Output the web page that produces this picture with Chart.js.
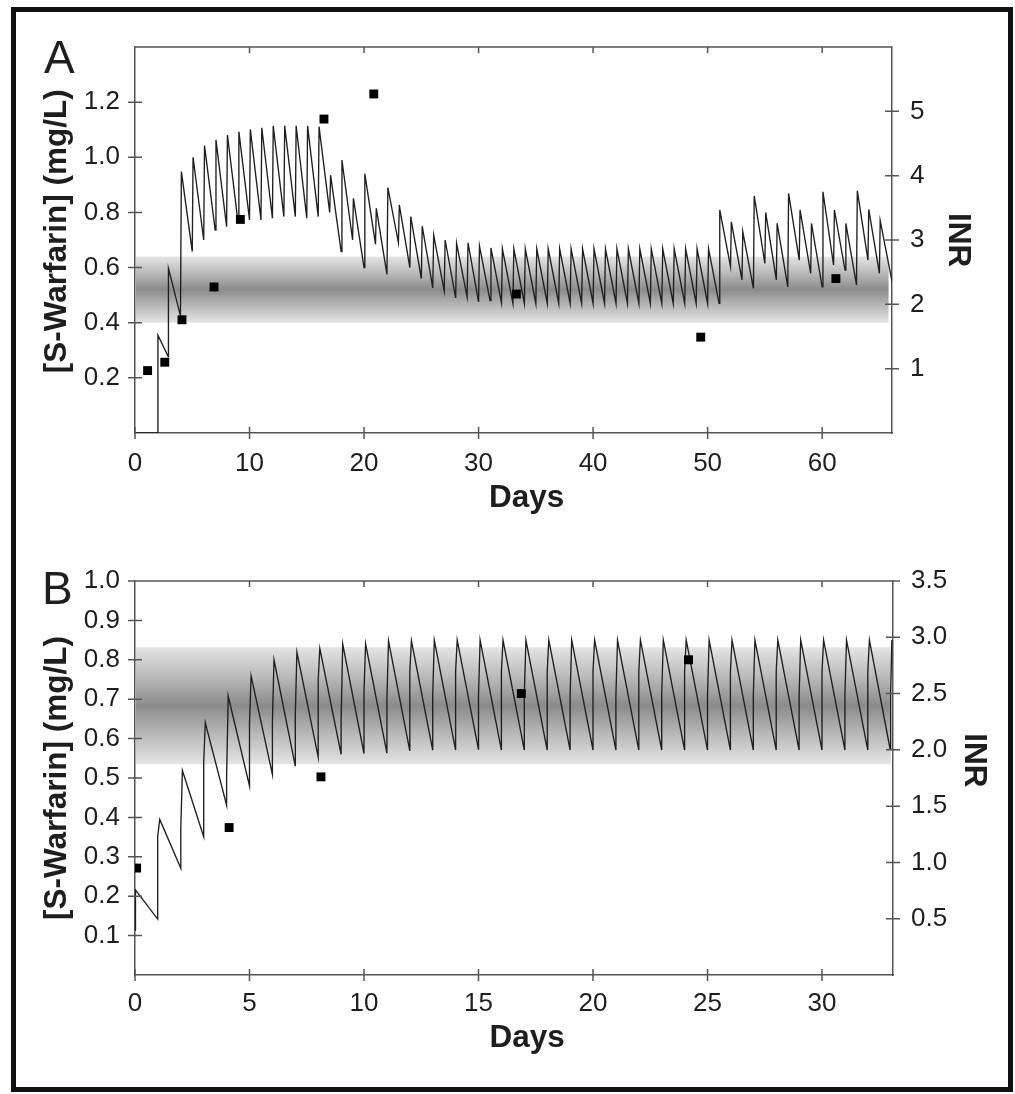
<!DOCTYPE html>
<html>
<head>
<meta charset="utf-8">
<script src="https://cdn.jsdelivr.net/npm/chart.js@4.4.1/dist/chart.umd.min.js"></script>
<style>
  html, body { margin: 0; padding: 0; background: #fff; }
  #page { position: relative; width: 1015px; height: 1094px; overflow: hidden; }
  #frame { position: absolute; left: 11px; top: 7px; width: 1002px; height: 1085px; border: 5px solid #111; box-sizing: border-box; }
  canvas { position: absolute; left: 0; }
  #chartA { top: 0; }
  #chartB { top: 540px; }
</style>
</head>
<body>
<div id="page">
  <div id="frame"></div>
  <canvas id="chartA" width="1015" height="540"></canvas>
  <canvas id="chartB" width="1015" height="554"></canvas>
</div>
<script>
// ---- Panel A: simulated [S-warfarin] (mg/L) and measured INR ----
const concA_days = [0, 2.0, 2.0, 2.9, 2.92, 3.97, 4.05,
  5.0, 5.07, 6.0, 6.07, 7.0, 7.07, 8.0, 8.07, 9.0, 9.07, 10.0, 10.07, 11.0, 11.07,
  12.0, 12.07, 13.0, 13.07, 14.0, 14.07, 15.0, 15.07, 16.0, 16.07,
  17.0, 17.08, 18.0, 18.07, 19.0, 19.07, 20.0, 20.07, 21.0, 21.07, 22.0, 22.08,
  23.0, 23.08, 24.0, 24.08, 25.0, 25.08, 26.0, 26.08, 27.0, 27.08, 28.0, 28.08,
  29.0, 29.08, 30.0, 30.08, 31.0, 31.08, 32.0, 32.08, 33.0, 33.08, 34.0, 34.08,
  35.0, 35.08, 36.0, 36.08, 37.0, 37.08, 38.0, 38.08, 39.0, 39.08, 40.0, 40.08,
  41.0, 41.08, 42.0, 42.08, 43.0, 43.08, 44.0, 44.08, 45.0, 45.08, 46.0, 46.08,
  47.0, 47.08, 48.0, 48.08, 49.0, 49.08, 50.0, 50.08, 51.0, 51.06,
  52.0, 52.07, 53.0, 53.07, 54.0, 54.07, 55.0, 55.07, 56.0, 56.07, 57.0, 57.07,
  58.0, 58.07, 59.0, 59.07, 60.0, 60.07, 61.0, 61.07, 62.0, 62.07, 63.0, 63.07,
  64.0, 64.07, 65.0, 65.07, 66.1];
const concA_mgL = [0, 0, 0.355, 0.277, 0.597, 0.425, 0.948,
  0.658, 1.000, 0.700, 1.042, 0.736, 1.063, 0.748, 1.081, 0.763, 1.093, 0.773, 1.101, 0.773, 1.107,
  0.779, 1.114, 0.785, 1.114, 0.785, 1.114, 0.779, 1.114, 0.785, 1.111,
  0.800, 0.935, 0.658, 0.990, 0.700, 0.851, 0.600, 0.940, 0.685, 0.815, 0.575, 0.890,
  0.690, 0.827, 0.600, 0.785, 0.560, 0.750, 0.526, 0.718, 0.515, 0.700, 0.490, 0.688,
  0.494, 0.690, 0.476, 0.678, 0.480, 0.671, 0.472, 0.668, 0.470, 0.668, 0.470, 0.668,
  0.470, 0.668, 0.470, 0.668, 0.470, 0.668, 0.470, 0.668, 0.470, 0.668, 0.470, 0.668,
  0.470, 0.668, 0.470, 0.668, 0.470, 0.668, 0.470, 0.668, 0.470, 0.668, 0.470, 0.668,
  0.470, 0.668, 0.470, 0.668, 0.470, 0.668, 0.470, 0.668, 0.470, 0.809,
  0.603, 0.766, 0.555, 0.730, 0.525, 0.860, 0.615, 0.800, 0.555, 0.761, 0.530, 0.869,
  0.627, 0.809, 0.579, 0.760, 0.530, 0.875, 0.609, 0.809, 0.591, 0.760, 0.537, 0.879,
  0.627, 0.811, 0.579, 0.770, 0.550];
const inrA_days   = [1.1, 2.6, 4.1, 6.9, 9.2, 16.5, 20.85, 33.3, 49.4, 61.2];
const inrA_values = [0.97, 1.10, 1.76, 2.27, 3.32, 4.88, 5.27, 2.16, 1.49, 2.40];
const bandA = [0.40, 0.64];     // shaded concentration range, mg/L
const bandA_end = 65.8;         // days

// ---- Panel B ----
const concB_days = [0, 0.02,
  0.99, 0.99, 1.08, 2.0, 2.0, 2.07, 3.0, 3.0, 3.07, 4.0, 4.0, 4.07, 5.0, 5.0, 5.07,
  6.0, 6.0, 6.07, 7.0, 7.0, 7.07, 8.0, 8.0, 8.07, 9.0, 9.0, 9.07, 10.0, 10.0, 10.07,
  11.0, 11.0, 11.07, 12.0, 12.0, 12.07, 13.0, 13.0, 13.07, 14.0, 14.0, 14.07,
  15.0, 15.0, 15.07, 16.0, 16.0, 16.07, 17.0, 17.0, 17.07, 18.0, 18.0, 18.07,
  19.0, 19.0, 19.07, 20.0, 20.0, 20.07, 21.0, 21.0, 21.07, 22.0, 22.0, 22.07,
  23.0, 23.0, 23.07, 24.0, 24.0, 24.07, 25.0, 25.0, 25.07, 26.0, 26.0, 26.07,
  27.0, 27.0, 27.07, 28.0, 28.0, 28.07, 29.0, 29.0, 29.07, 30.0, 30.0, 30.07,
  31.0, 31.0, 31.07, 32.0, 32.0, 32.07, 32.97, 33.0, 33.05];
const concB_mgL = [0.114, 0.216,
  0.142, 0.351, 0.395, 0.271, 0.372, 0.519, 0.351, 0.541, 0.640, 0.431, 0.503, 0.708, 0.480, 0.639, 0.759,
  0.509, 0.640, 0.800, 0.530, 0.660, 0.819, 0.553, 0.749, 0.829, 0.560, 0.647, 0.840, 0.562, 0.720, 0.840,
  0.563, 0.700, 0.848, 0.569, 0.770, 0.848, 0.571, 0.710, 0.850, 0.571, 0.770, 0.850,
  0.572, 0.710, 0.850, 0.571, 0.770, 0.850, 0.571, 0.710, 0.850, 0.571, 0.770, 0.850,
  0.571, 0.710, 0.850, 0.571, 0.770, 0.850, 0.571, 0.710, 0.850, 0.571, 0.770, 0.850,
  0.571, 0.710, 0.850, 0.571, 0.770, 0.850, 0.571, 0.710, 0.850, 0.571, 0.770, 0.850,
  0.571, 0.710, 0.850, 0.571, 0.770, 0.850, 0.571, 0.710, 0.850, 0.571, 0.770, 0.850,
  0.571, 0.710, 0.850, 0.571, 0.770, 0.850, 0.575, 0.720, 0.850];
const inrB_days   = [0.07, 4.11, 8.12, 16.87, 24.17];
const inrB_values = [0.95, 1.31, 1.76, 2.50, 2.80];
const bandB = [0.535, 0.832];
const bandB_end = 33.0;

const tickFont = { family: '"Liberation Sans", Arial, sans-serif', size: 26 };
const titleFont = { family: '"Liberation Sans", Arial, sans-serif', size: 31.5, weight: 'bold' };
const textColor = '#1e1e1e';
const axisColor = '#555';

const pts = (xs, ys) => xs.map((x, i) => ({ x: x, y: ys[i] }));

// gradient band + box top line + tick marks that cross the axes + panel letter
const panelDecor = {
  id: 'panelDecor',
  beforeDatasetsDraw(chart, args, o) {
    const { ctx, chartArea: a, scales } = chart;
    const top = scales.y.getPixelForValue(o.band[1]);
    const bot = scales.y.getPixelForValue(o.band[0]);
    const right = scales.x.getPixelForValue(o.bandEnd);
    const g = ctx.createLinearGradient(0, top, 0, bot);
    g.addColorStop(0, '#e4e4e4');
    g.addColorStop(0.25, '#bababa');
    g.addColorStop(0.5, '#8b8b8b');
    g.addColorStop(0.75, '#bababa');
    g.addColorStop(1, '#e4e4e4');
    ctx.save();
    ctx.fillStyle = g;
    ctx.fillRect(a.left + 1, top, right - a.left - 1, bot - top);
    ctx.restore();
  },
  afterDraw(chart, args, o) {
    const { ctx, chartArea: a, scales } = chart;
    ctx.save();
    ctx.strokeStyle = axisColor;
    ctx.lineWidth = 1.5;
    ctx.beginPath();
    ctx.moveTo(a.left, a.top);
    ctx.lineTo(a.right, a.top);
    scales.x.ticks.forEach(t => {
      if (t.label === '') return;
      const px = scales.x.getPixelForValue(t.value);
      ctx.moveTo(px, a.bottom - 6); ctx.lineTo(px, a.bottom + 6);
      if (t.value > 0) { ctx.moveTo(px, a.top); ctx.lineTo(px, a.top + 6); }
    });
    scales.y.ticks.forEach(t => {
      if (t.label === '') return;
      const py = scales.y.getPixelForValue(t.value);
      ctx.moveTo(a.left - 7, py); ctx.lineTo(a.left + 7, py);
    });
    scales.y1.ticks.forEach(t => {
      if (t.label === '') return;
      const py = scales.y1.getPixelForValue(t.value);
      ctx.moveTo(a.right - 7, py); ctx.lineTo(a.right + 7, py);
    });
    ctx.stroke();
    ctx.fillStyle = textColor;
    ctx.font = '46px "Liberation Sans", Arial, sans-serif';
    ctx.textBaseline = 'alphabetic';
    ctx.fillText(o.letter, o.letterX, o.letterY);
    ctx.restore();
  }
};

function makePanel(id, cfg) {
  return new Chart(document.getElementById(id), {
    type: 'scatter',
    data: {
      datasets: [
        {
          data: pts(cfg.inrDays, cfg.inrValues),
          yAxisID: 'y1',
          pointStyle: 'rect',
          pointRadius: 6.3,
          backgroundColor: '#000',
          borderWidth: 0,
          order: 0
        },
        {
          data: pts(cfg.concDays, cfg.concValues),
          yAxisID: 'y',
          showLine: true,
          borderColor: '#1f1f1f',
          borderWidth: 1.35,
          pointRadius: 0,
          tension: 0,
          order: 1
        }
      ]
    },
    options: {
      responsive: false,
      animation: false,
      events: [],
      layout: { padding: { top: cfg.padTop, left: 0, right: 0, bottom: 0 } },
      plugins: {
        legend: { display: false },
        tooltip: { enabled: false },
        panelDecor: { band: cfg.band, bandEnd: cfg.bandEnd, letter: cfg.letter, letterX: cfg.letterX, letterY: cfg.letterY }
      },
      scales: {
        x: {
          type: 'linear', min: 0, max: cfg.xMax,
          grid: { display: false, drawTicks: false },
          border: { color: axisColor, width: 1.5 },
          ticks: { stepSize: cfg.xStep, includeBounds: false, padding: cfg.xPad, font: tickFont, color: textColor, maxRotation: 0 },
          title: { display: true, text: '   Days', font: titleFont, color: textColor, padding: { top: 0, bottom: cfg.daysPad } },
          afterFit: s => { s.height = cfg.xHeight; }
        },
        y: {
          type: 'linear', position: 'left', min: 0, max: cfg.yMax,
          grid: { display: false, drawTicks: false },
          border: { color: axisColor, width: 1.5 },
          ticks: {
            stepSize: cfg.yStep, padding: 15, font: tickFont, color: textColor,
            callback: v => (v > 0.001 && v <= cfg.yLabelMax + 0.001) ? v.toFixed(1) : ''
          },
          title: { display: true, text: cfg.yTitle, font: titleFont, color: textColor, padding: { top: 38 } },
          afterFit: s => { s.width = 135; }
        },
        y1: {
          type: 'linear', position: 'right', min: 0, max: cfg.y1Max,
          grid: { display: false, drawTicks: false },
          border: { color: axisColor, width: 1.5 },
          ticks: {
            stepSize: cfg.y1Step, padding: 18, font: tickFont, color: textColor,
            callback: v => (v > 0.001 && v <= cfg.y1LabelMax + 0.001) ? (cfg.y1Step < 1 ? v.toFixed(1) : String(v)) : ''
          },
          title: { display: true, text: cfg.inrTitle, font: titleFont, color: textColor, padding: { top: cfg.inrPad } },
          afterFit: s => { s.width = cfg.rightWidth; }
        }
      }
    },
    plugins: [panelDecor]
  });
}

makePanel('chartA', {
  concDays: concA_days, concValues: concA_mgL, inrDays: inrA_days, inrValues: inrA_values,
  band: bandA, bandEnd: bandA_end, letter: 'A', letterX: 44, letterY: 73,
  padTop: 47, xHeight: 107, rightWidth: 123, xMax: 66.1, xStep: 10, xPad: 15, daysPad: 23,
  yMax: 1.4, yStep: 0.2, yLabelMax: 1.2, y1Max: 6, y1Step: 1, y1LabelMax: 5, inrPad: 38,
  yTitle: '  [S-Warfarin] (mg/L)', inrTitle: 'INR'
});

makePanel('chartB', {
  concDays: concB_days, concValues: concB_mgL, inrDays: inrB_days, inrValues: inrB_values,
  band: bandB, bandEnd: bandB_end, letter: 'B', letterX: 42, letterY: 64,
  padTop: 41, xHeight: 119, rightWidth: 122, xMax: 33.1, xStep: 5, xPad: 13, daysPad: 37,
  yMax: 1.0, yStep: 0.1, yLabelMax: 1.0, y1Max: 3.5, y1Step: 0.5, y1LabelMax: 3.5, inrPad: 22,
  yTitle: '[S-Warfarin] (mg/L)', inrTitle: 'INR    '
});
</script>
</body>
</html>
